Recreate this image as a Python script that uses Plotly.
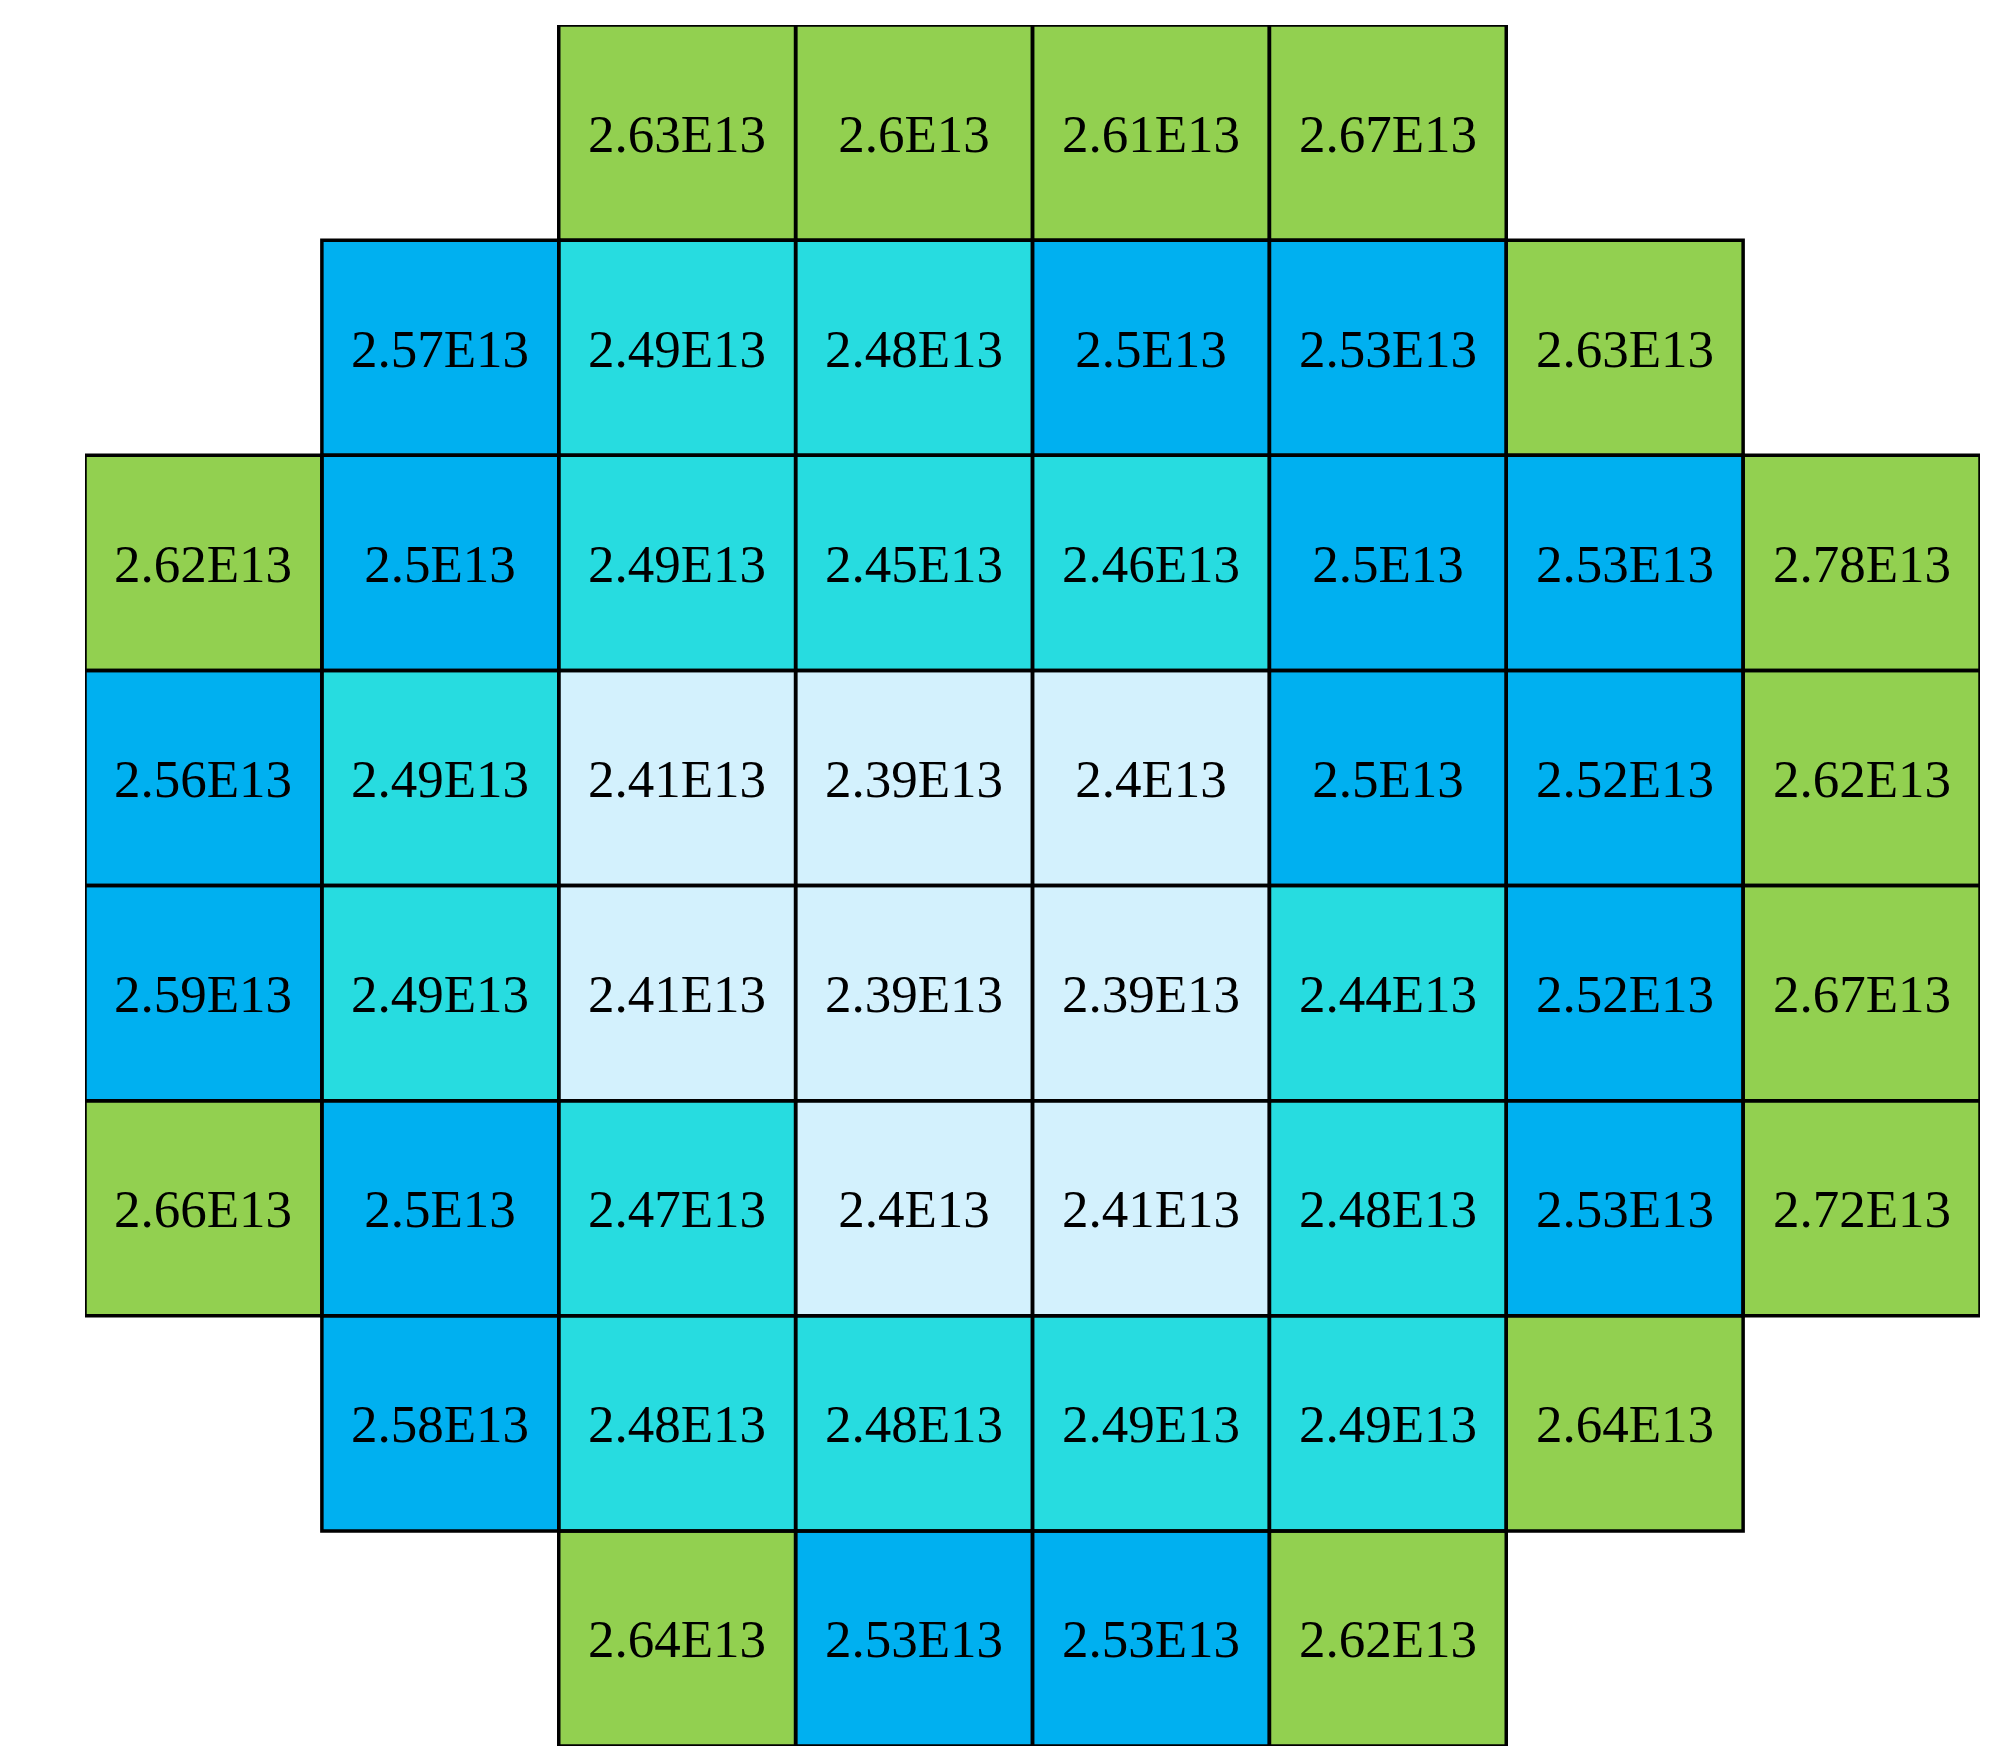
import plotly.graph_objects as go

# Values in units of 1E13, row by row (top to bottom), None = empty position
row0 = [None, None, 2.63, 2.6, 2.61, 2.67, None, None]
row1 = [None, 2.57, 2.49, 2.48, 2.5, 2.53, 2.63, None]
row2 = [2.62, 2.5, 2.49, 2.45, 2.46, 2.5, 2.53, 2.78]
row3 = [2.56, 2.49, 2.41, 2.39, 2.4, 2.5, 2.52, 2.62]
row4 = [2.59, 2.49, 2.41, 2.39, 2.39, 2.44, 2.52, 2.67]
row5 = [2.66, 2.5, 2.47, 2.4, 2.41, 2.48, 2.53, 2.72]
row6 = [None, 2.58, 2.48, 2.48, 2.49, 2.49, 2.64, None]
row7 = [None, None, 2.64, 2.53, 2.53, 2.62, None, None]
rows = [row0, row1, row2, row3, row4, row5, row6, row7]

col_idx = list(range(8))
row_idx = list(range(8))

# colour bands (lower bounds, in 1E13 units)
band_edges = [2.42, 2.495, 2.595]
band_colors = ["#D3F1FD", "#27DCE0", "#00B0F0", "#92D050"]


def band(v):
    if v is None:
        return None
    k = 0
    for e in band_edges:
        if v >= e:
            k += 1
    return k


z = [[band(v) for v in r] for r in rows]
text = [["" if v is None else f"{v:g}E13" for v in r] for r in rows]

n = len(band_colors)
cs = []
for i, c in enumerate(band_colors):
    cs.append([i / n, c])
    cs.append([(i + 1) / n, c])

fig = go.Figure()
fig.add_trace(go.Heatmap(
    z=z, x=col_idx, y=row_idx, text=text, texttemplate="%{text}",
    textfont=dict(family="Liberation Serif, Times New Roman, serif", size=53, color="black"),
    colorscale=cs, zmin=-0.5, zmax=n - 0.5, showscale=False, hoverinfo="skip",
))

for r, vals in enumerate(rows):
    for c, v in enumerate(vals):
        if v is None:
            continue
        fig.add_shape(type="rect", xref="x", yref="y",
                      x0=c - 0.5, x1=c + 0.5, y0=r - 0.5, y1=r + 0.5,
                      line=dict(color="black", width=3.5), fillcolor="rgba(0,0,0,0)",
                      layer="above")

fig.update_xaxes(visible=False, range=[-0.5, 7.5], showgrid=False, zeroline=False)
fig.update_yaxes(visible=False, range=[7.5, -0.5], showgrid=False, zeroline=False)
fig.update_layout(
    width=1989, height=1745,
    margin=dict(l=77, r=17, t=17, b=7),
    paper_bgcolor="white", plot_bgcolor="white",
)
fig.write_html("out.html")
